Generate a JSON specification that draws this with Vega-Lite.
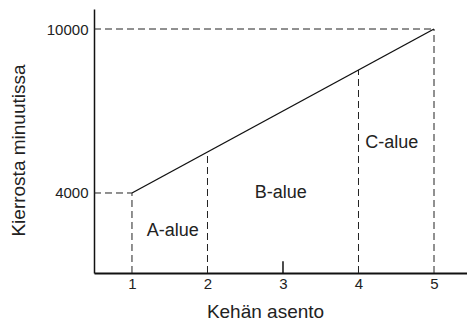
{
  "$schema": "https://vega.github.io/schema/vega-lite/v6.json",
  "width": 373,
  "height": 264,
  "autosize": {"type": "none"},
  "padding": {"left": 94, "top": 9, "right": 0, "bottom": 48},
  "background": "white",
  "config": {
    "view": {"stroke": null},
    "font": "Liberation Sans"
  },
  "datasets": {
    "curve": [
      {"pos": 1, "rpm": 4000},
      {"pos": 5, "rpm": 10000}
    ],
    "guides": [
      {"x": 1, "x2": 1, "y": 1073, "y2": 4000},
      {"x": 2, "x2": 2, "y": 1073, "y2": 5500},
      {"x": 4, "x2": 4, "y": 1073, "y2": 8500},
      {"x": 5, "x2": 5, "y": 1073, "y2": 10000},
      {"x": 0.497, "x2": 1, "y": 4000, "y2": 4000},
      {"x": 0.497, "x2": 5, "y": 10000, "y2": 10000}
    ],
    "ticks": [
      {"x": 3, "y": 1073, "y2": 1500}
    ],
    "labels": [
      {"x": 1.54, "y": 2610, "label": "A-alue"},
      {"x": 2.97, "y": 4000, "label": "B-alue"},
      {"x": 4.44, "y": 5830, "label": "C-alue"}
    ]
  },
  "layer": [
    {
      "data": {"name": "guides"},
      "mark": {"type": "rule", "stroke": "#222", "strokeWidth": 1, "strokeDash": [7, 4]},
      "encoding": {
        "x": {
          "field": "x", "type": "quantitative",
          "scale": {"domain": [0.497, 5.437], "nice": false, "zero": false},
          "axis": {
            "values": [1, 2, 3, 4, 5],
            "format": "d",
            "grid": false,
            "ticks": false,
            "domainColor": "#111",
            "domainWidth": 2,
            "labelFontSize": 15,
            "labelColor": "#222",
            "labelPadding": 3,
            "title": "Kehän asento",
            "titleFontSize": 19,
            "titleFontWeight": "normal",
            "titleColor": "#222",
            "titleX": 171,
            "titleY": 44,
            "titleBaseline": "alphabetic",
            "titleAnchor": null,
            "titleAlign": "center"
          }
        },
        "x2": {"field": "x2"},
        "y": {
          "field": "y", "type": "quantitative",
          "scale": {"domain": [1073, 10732], "nice": false, "zero": false},
          "axis": {
            "values": [4000, 10000],
            "format": "d",
            "grid": false,
            "ticks": false,
            "domainColor": "#111",
            "domainWidth": 1.5,
            "labelFontSize": 15,
            "labelColor": "#222",
            "labelPadding": 6,
            "title": "Kierrosta minuutissa",
            "titleFontSize": 19,
            "titleFontWeight": "normal",
            "titleColor": "#222",
            "titleX": -70,
            "titleY": 141,
            "titleAngle": -90,
            "titleBaseline": "alphabetic",
            "titleAnchor": null,
            "titleAlign": "center"
          }
        },
        "y2": {"field": "y2"}
      }
    },
    {
      "data": {"name": "ticks"},
      "mark": {"type": "rule", "stroke": "#111", "strokeWidth": 1.5},
      "encoding": {
        "x": {"field": "x", "type": "quantitative"},
        "y": {"field": "y", "type": "quantitative"},
        "y2": {"field": "y2"}
      }
    },
    {
      "data": {"name": "curve"},
      "mark": {"type": "line", "stroke": "#111", "strokeWidth": 1.4},
      "encoding": {
        "x": {"field": "pos", "type": "quantitative"},
        "y": {"field": "rpm", "type": "quantitative"}
      }
    },
    {
      "data": {"name": "labels"},
      "mark": {"type": "text", "fontSize": 18, "color": "#222", "align": "center", "baseline": "middle"},
      "encoding": {
        "x": {"field": "x", "type": "quantitative"},
        "y": {"field": "y", "type": "quantitative"},
        "text": {"field": "label"}
      }
    }
  ]
}
